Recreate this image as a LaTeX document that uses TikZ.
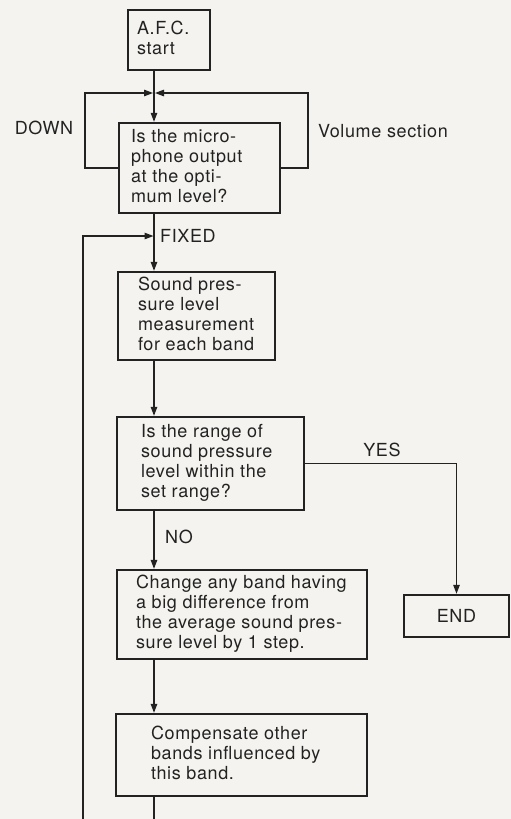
\documentclass[tikz,border=0pt]{standalone}
\usepackage{fontspec}
\setmainfont{TeX Gyre Heros}[LetterSpace=3.5]
\usetikzlibrary{arrows.meta}
\definecolor{paper}{RGB}{244,243,239}
\definecolor{ink}{RGB}{34,34,34}
\newcommand{\bxt}[2]{\makebox[#1][l]{\begin{tabular}{@{}l@{}}#2\end{tabular}}}
\begin{document}
\begin{tikzpicture}[x=1pt,y=-1pt,
  txt/.style={font=\fontsize{18}{20}\selectfont, text=ink},
  box/.style={txt, draw=ink, line width=2.4pt, rectangle, inner ysep=0pt},
  lab/.style={txt, inner sep=0pt},
  conn/.style={draw=ink, line width=1.2pt},
  arr/.style={conn, -{Triangle[length=9pt,width=6.5pt]}}]
\fill[paper] (0,0) rectangle (511,819);
\useasboundingbox (0,0) rectangle (511,819);

\node[box, minimum height=60pt, inner xsep=9pt] (b1) at (169,40) {\bxt{64pt}{A.F.C.\\start}};
\node[box, minimum height=90pt, inner xsep=12pt] (b2) at (199.5,168) {\bxt{137pt}{Is the micro-\\phone output\\at the opti-\\mum level?}};
\node[box, minimum height=88pt, inner xsep=20pt] (b3) at (196.5,316) {\bxt{117pt}{Sound pres-\\sure level\\measurement\\for each band}};
\node[box, minimum height=93pt, inner xsep=24pt] (b4) at (210.5,463.5) {\bxt{139pt}{Is the range of\\sound pressure\\level within the\\set range?}};
\node[box, minimum height=89pt, inner xsep=19pt] (b5) at (242,614.5) {\bxt{212pt}{Change any band having\\a big difference from\\the average sound pres-\\sure level by 1 step.}};
\node[box, minimum height=82pt, inner xsep=35pt] (b6) at (241.5,755) {\bxt{181pt}{Compensate other\\bands influenced by\\this band.}};
\node[box, align=center, minimum width=105pt, minimum height=42pt, inner xsep=0pt] (end) at (456.5,616) {END};

\coordinate (j) at (154,93);
\coordinate (lt) at (85,93);
\coordinate (rt) at (308,93);
\coordinate (fx) at (154,236);
\coordinate (bl) at (83,819);
\coordinate (bb) at (154,819);

\draw[arr] (b1.south -| j) -- (b2.north -| j);
\draw[arr] (b2.west) -| (lt) -- ([xshift=-1pt]j);
\draw[arr] (b2.east) -| (rt) -- ([xshift=1pt]j);
\draw[arr] (bl) |- ([xshift=-0.5pt]fx);
\draw[arr] (b2.south -| j) -- (b3.north -| j);
\draw[arr] (b3.south -| j) -- (b4.north -| j);
\draw[arr] (b4.south -| j) -- (b5.north -| j);
\draw[arr] (b5.south -| j) -- (b6.north -| j);
\draw[conn] (b6.south -| j) -- (bb);
\draw[arr] (b4.east) -| (end.north);

\node[lab] (ldown) at (44,128) {DOWN};
\node[lab, anchor=west] (lvol) at (318,131) {Volume section};
\node[lab, anchor=west] (lfix) at (160,236) {FIXED};
\node[lab] (lyes) at (382,450) {YES};
\node[lab, anchor=west] (lno) at (165,537) {NO};
\end{tikzpicture}
\end{document}
